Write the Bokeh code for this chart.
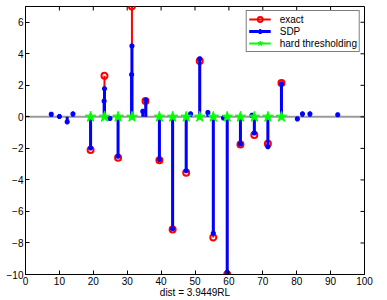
import math
from bokeh.plotting import figure
from bokeh.models import (Range1d, FixedTicker, Legend, LegendItem,
                          Span, ColumnDataSource, CustomJSTickFormatter)
from bokeh.embed import file_html
from bokeh.resources import INLINE

# ---- data ----
exact_x = [19.2, 23.3, 27.3, 31.4, 35.4, 39.5, 43.4, 47.4, 51.4, 55.4, 59.5, 63.4, 67.5, 71.5, 75.5]
exact_y = [-2.1, 2.6, -2.6, 7.0, 1.0, -2.75, -7.15, -3.55, 3.55, -7.65, -10.0, -1.75, -1.15, -1.7, 2.15]

sdp_x = [7.6, 10.0, 12.3, 14.0, 19.2, 23.2, 23.3, 24.9, 27.3, 31.3, 31.4, 34.6, 35.5,
         39.5, 43.4, 47.4, 48.7, 51.4, 53.8, 55.4, 58.4, 59.5, 63.4, 66.8, 67.5,
         71.5, 75.5, 80.2, 81.7, 83.9, 92.1]
sdp_y = [0.17, 0.02, -0.32, 0.19, -1.97, 1.0, 1.78, -0.1, -2.5, 2.68, 4.5, 0.35, 1.05,
         -2.7, -7.1, -3.42, 0.19, 3.68, 0.27, -7.38, -0.07, -9.85, -1.72, 0.1, -1.03,
         -1.9, 2.1, -0.13, 0.19, 0.19, 0.13]

ht_x = [19.2, 23.3, 27.3, 31.4, 39.5, 43.4, 47.4, 51.4, 55.4, 59.5, 63.4, 67.5, 71.5, 75.5]
ht_y = [0, 0, 0, 0, 0, 0, 0, 0, 0, 0, 0, 0, 0, 0]

x_min, x_max = 0, 100
y_min, y_max = -10, 7
x_ticks = [0, 10, 20, 30, 40, 50, 60, 70, 80, 90, 100]
y_ticks = [-10, -8, -6, -4, -2, 0, 2, 4, 6]
x_label = "dist = 3.9449RL"
legend_labels = ["exact", "SDP", "hard thresholding"]

FONT = "Liberation Sans"

exact_src = ColumnDataSource(dict(x=exact_x, y=exact_y, y0=[0] * len(exact_x)))
sdp_src = ColumnDataSource(dict(x=sdp_x, y=sdp_y, y0=[0] * len(sdp_x)))
ht_src = ColumnDataSource(dict(x=ht_x, y=ht_y, y0=[0] * len(ht_x)))

p = figure(width=387, height=300, x_range=Range1d(x_min, x_max), y_range=Range1d(y_min, y_max),
           output_backend="svg", toolbar_location=None,
           min_border_top=6, min_border_left=25, min_border_right=23, min_border_bottom=25)
p.grid.visible = False
p.outline_line_color = "black"
p.outline_line_width = 1
p.background_fill_color = "white"
p.border_fill_color = "white"

fmt = CustomJSTickFormatter(code="return tick < 0 ? '\u2212' + (-tick) : '' + tick;")

for ax in p.xaxis:
    ax.ticker = FixedTicker(ticks=x_ticks)
for ax in p.yaxis:
    ax.ticker = FixedTicker(ticks=y_ticks)
    ax.formatter = fmt

for ax in list(p.xaxis) + list(p.yaxis):
    ax.major_tick_in = 4
    ax.major_tick_out = 0
    ax.minor_tick_line_color = None
    ax.major_label_text_font = FONT
    ax.major_label_text_font_size = "10px"
    ax.major_label_text_color = "black"
    ax.axis_line_color = "black"
    ax.major_tick_line_color = "black"
p.yaxis.major_label_standoff = 2
p.xaxis.major_label_standoff = 2

p.xaxis.axis_label = x_label
p.xaxis.axis_label_text_font = FONT
p.xaxis.axis_label_text_font_size = "10px"
p.xaxis.axis_label_text_font_style = "normal"
p.xaxis.axis_label_text_color = "black"
p.xaxis.axis_label_standoff = -1

# inward ticks on the top and right edges of the box (half of each dash is clipped away)
p.scatter(x=x_ticks, y=[y_max] * len(x_ticks), marker="dash", size=8, angle=math.pi / 2,
          line_color="black", line_width=1)
p.scatter(x=[x_max] * len(y_ticks), y=y_ticks, marker="dash", size=8,
          line_color="black", line_width=1)

p.add_layout(Span(location=0, dimension="width", line_color="#9a9a9a", line_width=2, level="underlay"))

red_stem = p.segment(x0="x", y0="y0", x1="x", y1="y", source=exact_src, line_color="#ff0000", line_width=2)
red_mark = p.scatter(x="x", y="y", source=exact_src, marker="circle", size=6,
                     line_color="#ff0000", line_width=2, fill_color=None)
blue_stem = p.segment(x0="x", y0="y0", x1="x", y1="y", source=sdp_src, line_color="#0000ff", line_width=3)
blue_mark = p.scatter(x="x", y="y", source=sdp_src, marker="asterisk", size=5,
                      line_color="#0000ff", line_width=2)
green_stem = p.segment(x0="x", y0="y0", x1="x", y1="y", source=ht_src, line_color="#00ff00", line_width=2)
green_mark = p.scatter(x="x", y="y", source=ht_src, marker="star", size=11,
                       line_color="#00ff00", fill_color="#00ff00")

legend = Legend(items=[
    LegendItem(label=legend_labels[0], renderers=[red_stem, red_mark]),
    LegendItem(label=legend_labels[1], renderers=[blue_stem, blue_mark]),
    LegendItem(label=legend_labels[2], renderers=[green_stem, green_mark]),
], location="top_right")
legend.label_text_font = FONT
legend.label_text_font_size = "10px"
legend.label_text_color = "black"
legend.border_line_color = "black"
legend.border_line_width = 1
legend.background_fill_color = "white"
legend.background_fill_alpha = 1
legend.padding = 2
legend.spacing = 0
legend.margin = 4
legend.glyph_width = 22
legend.glyph_height = 12
legend.label_height = 12
legend.label_standoff = 9
p.add_layout(legend)

open("out.html", "w").write(file_html(p, INLINE))
